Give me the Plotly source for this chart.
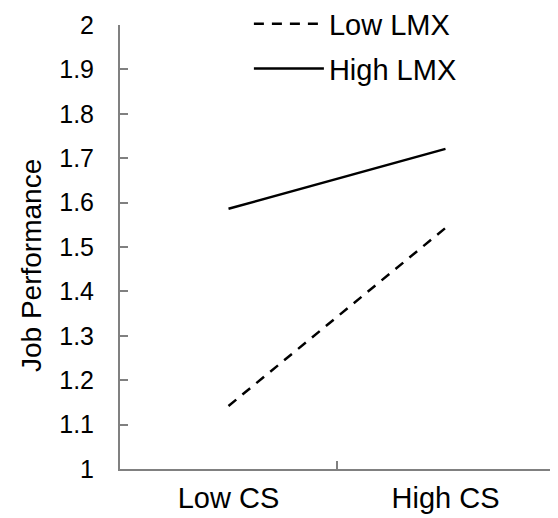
import plotly.graph_objects as go

categories = ["Low CS", "High CS"]
low_lmx = [1.142, 1.543]
high_lmx = [1.586, 1.721]
y_ticks = [1, 1.1, 1.2, 1.3, 1.4, 1.5, 1.6, 1.7, 1.8, 1.9, 2]
y_tick_labels = ["1", "1.1", "1.2", "1.3", "1.4", "1.5", "1.6", "1.7", "1.8", "1.9", "2"]
y_title = "Job Performance"

FONT = "Liberation Sans, Arial, sans-serif"

fig = go.Figure()
fig.add_trace(go.Scatter(x=categories, y=low_lmx, mode="lines", name="Low LMX",
                         line=dict(color="black", width=2.5, dash="10px,8px"),
                         legendgroup="a", yaxis="y2"))
fig.add_trace(go.Scatter(x=categories, y=high_lmx, mode="lines", name="High LMX",
                         line=dict(color="black", width=2.5),
                         legendgroup="b"))

# page body has an 8px margin, so the figure is 550x510 and offset by 8px
fig.update_layout(
    width=550, height=510,
    margin=dict(l=112, r=4, t=17, b=49, autoexpand=False),
    paper_bgcolor="white", plot_bgcolor="white",
    font=dict(family=FONT, size=28, color="black"),
    showlegend=True,
    legend=dict(x=0.297, y=1.06, xref="paper", yref="paper",
                xanchor="left", yanchor="top",
                bgcolor="rgba(0,0,0,0)", font=dict(size=29),
                itemwidth=70, tracegroupgap=4),
    xaxis=dict(type="category", range=[-0.5, 1.5], showline=True,
               linecolor="#808080", linewidth=2, ticks="inside", ticklen=8,
               tickcolor="#808080", tickwidth=2, tickson="boundaries",
               showgrid=False, zeroline=False, tickfont=dict(size=29),
               ticklabelstandoff=2),
    # labelled axis: invisible outside ticks push the labels away from the line
    yaxis=dict(range=[1, 2], tickvals=y_ticks, ticktext=y_tick_labels,
               showline=True, linecolor="#808080", linewidth=2,
               ticks="outside", ticklen=19, tickcolor="rgba(0,0,0,0)",
               showgrid=False, zeroline=False, tickfont=dict(size=25)),
    # overlay axis: draws the short inside tick marks
    yaxis2=dict(range=[1, 2], tickvals=y_ticks, overlaying="y", anchor="x",
                side="left", showticklabels=False, showline=False,
                ticks="inside", ticklen=8, tickcolor="#808080", tickwidth=2,
                showgrid=False, zeroline=False),
    annotations=[dict(text=y_title, xref="paper", yref="paper", x=0, y=0.5,
                      xanchor="center", yanchor="middle", xshift=-89, yshift=-19,
                      textangle=-90, showarrow=False, font=dict(size=28))],
)

fig.write_html("out.html")
